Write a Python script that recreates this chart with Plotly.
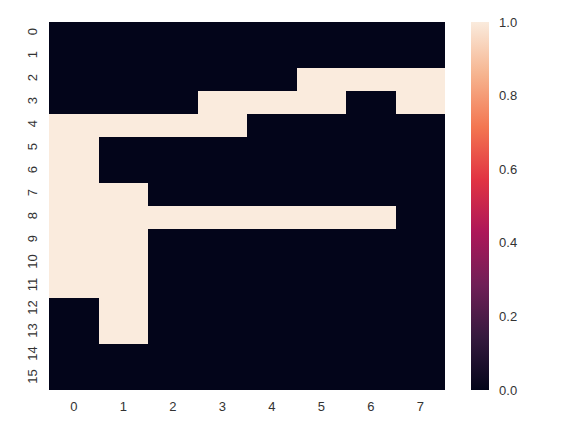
import plotly.graph_objects as go

rows = list(range(16))
cols = list(range(8))
values = [
    [0, 0, 0, 0, 0, 0, 0, 0],
    [0, 0, 0, 0, 0, 0, 0, 0],
    [0, 0, 0, 0, 0, 1, 1, 1],
    [0, 0, 0, 1, 1, 1, 0, 1],
    [1, 1, 1, 1, 0, 0, 0, 0],
    [1, 0, 0, 0, 0, 0, 0, 0],
    [1, 0, 0, 0, 0, 0, 0, 0],
    [1, 1, 0, 0, 0, 0, 0, 0],
    [1, 1, 1, 1, 1, 1, 1, 0],
    [1, 1, 0, 0, 0, 0, 0, 0],
    [1, 1, 0, 0, 0, 0, 0, 0],
    [1, 1, 0, 0, 0, 0, 0, 0],
    [0, 1, 0, 0, 0, 0, 0, 0],
    [0, 1, 0, 0, 0, 0, 0, 0],
    [0, 0, 0, 0, 0, 0, 0, 0],
    [0, 0, 0, 0, 0, 0, 0, 0],
]
cbar_ticks = [0.0, 0.2, 0.4, 0.6, 0.8, 1.0]

rocket = [
    [0.0, "#03051a"],
    [1/7, "#35193e"],
    [2/7, "#701f57"],
    [3/7, "#ad1759"],
    [4/7, "#e13342"],
    [5/7, "#f37651"],
    [6/7, "#f6b48f"],
    [1.0, "#faebdd"],
]

font = dict(family="Liberation Sans, Arial, sans-serif", size=13, color="#333333")

fig = go.Figure(go.Heatmap(
    z=values, x=cols, y=rows,
    colorscale=rocket, zmin=0, zmax=1,
    colorbar=dict(
        thickness=18, len=1, lenmode="fraction", y=0.5, yanchor="middle",
        x=(471 - 49) / 396, xanchor="left", xpad=0, ypad=0,
        outlinewidth=0, tickvals=cbar_ticks,
        ticktext=[f"{t:.1f}" for t in cbar_ticks],
        ticks="outside", ticklen=8, tickcolor="rgba(0,0,0,0)",
        tickfont=font,
    ),
))

fig.update_layout(
    width=563, height=443,
    margin=dict(l=41, r=126, t=14, b=61),
    paper_bgcolor="white", plot_bgcolor="white",
    font=font,
    xaxis=dict(tickvals=cols, ticktext=[str(c) for c in cols], showgrid=False,
               zeroline=False, ticks="outside", ticklen=4, tickcolor="rgba(0,0,0,0)",
               tickfont=font),
    yaxis=dict(tickvals=rows, ticktext=[str(r) for r in rows], autorange="reversed",
               showgrid=False, zeroline=False, tickangle=-90, ticks="outside",
               ticklen=6, tickcolor="rgba(0,0,0,0)", tickfont=font),
)

fig.write_html("out.html")
